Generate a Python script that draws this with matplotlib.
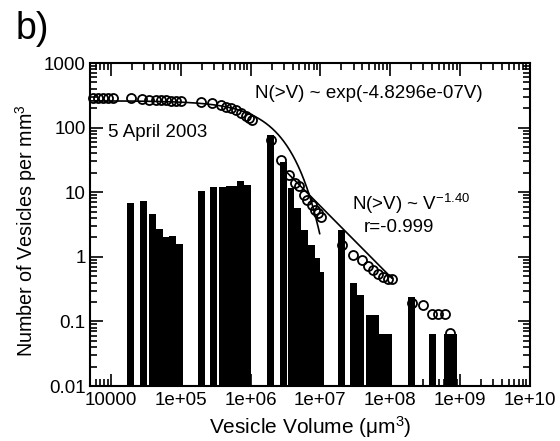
import numpy as np
import matplotlib
matplotlib.use("Agg")
import matplotlib.pyplot as plt
from matplotlib.ticker import LogLocator, FixedLocator, FixedFormatter, NullFormatter

plt.rcParams['font.family'] = ['Liberation Sans', 'DejaVu Sans']
plt.rcParams['mathtext.fontset'] = 'custom'
plt.rcParams['mathtext.rm'] = 'Liberation Sans'
plt.rcParams['mathtext.default'] = 'regular'

# histogram bars: log10(volume um^3) of bin centre, number per mm^3
bar_logv = [4.28, 4.47, 4.59, 4.69, 4.79, 4.88, 4.98,
            5.295, 5.47, 5.60, 5.70, 5.765, 5.85, 5.95,
            6.29, 6.47, 6.58, 6.68, 6.77, 6.87, 6.94, 7.00,
            7.30, 7.47, 7.58, 7.70, 7.79, 7.885, 7.975,
            8.31, 8.61, 8.83, 8.91]
bar_n = [6.9, 7.4, 4.6, 2.7, 2.05, 2.1, 1.6,
         10.5, 12.2, 12.2, 12.7, 12.7, 14.8, 13.0,
         77, 29, 11.5, 5.6, 2.6, 1.55, 0.96, 0.59,
         2.6, 0.39, 0.26, 0.126, 0.126, 0.063, 0.063,
         0.24, 0.063, 0.063, 0.063]

# cumulative N(>V)
cum_logv = [3.741, 3.813, 3.885, 3.957, 4.029,
            4.282, 4.449, 4.546, 4.641, 4.713, 4.785, 4.857, 4.929, 5.001,
            5.293, 5.451, 5.580, 5.652, 5.724, 5.796, 5.868, 5.940, 5.983, 6.026,
            6.299, 6.443, 6.557, 6.644, 6.701, 6.773, 6.816, 6.874, 6.917, 6.960, 7.003,
            7.305, 7.463, 7.592, 7.678, 7.750, 7.822, 7.894, 7.966, 8.023,
            8.310, 8.468, 8.598, 8.684, 8.784, 8.856]
cum_n = [285, 285, 285, 285, 285,
         285, 276, 272, 268, 266, 264, 262, 261, 260,
         252, 238, 224, 211, 199, 187, 170, 153, 139, 131,
         65, 31.6, 18.5, 14, 12.3, 9.1, 7.6, 6.3, 5.3, 4.7, 4.2,
         1.5, 1.07, 0.89, 0.72, 0.63, 0.54, 0.49, 0.46, 0.46,
         0.195, 0.18, 0.13, 0.13, 0.13, 0.066]

# fitted curves as drawn
exp_amp = 260
exp_rate = 4.8296e-07
exp_vmax = 9.8e6
pow_logv = [6.45, 8.023]
pow_logn = [1.385, -0.328]

xticks = [1e4, 1e5, 1e6, 1e7, 1e8, 1e9, 1e10]
xticklabels = ['10000', '1e+05', '1e+06', '1e+07', '1e+08', '1e+09', '1e+10']
yticks = [0.01, 0.1, 1, 10, 100, 1000]
yticklabels = ['0.01', '0.1', '1', '10', '100', '1000']

fig = plt.figure(figsize=(5.6, 4.41), dpi=100)
ax = fig.add_axes([0.1607, 0.1247, 0.785, 0.7324])

half = 0.05
lv = np.array(bar_logv)
left = 10 ** (lv - half)
right = 10 ** (lv + half)
ax.bar(left, np.array(bar_n) - 1e-3, width=right - left, bottom=1e-3,
       align='edge', color='black', linewidth=0, zorder=2)

vv = np.logspace(np.log10(5000), np.log10(exp_vmax), 400)
ax.plot(vv, exp_amp * np.exp(-exp_rate * vv), color='black', lw=1.2, zorder=3)

ax.plot(10 ** np.array(pow_logv), 10 ** np.array(pow_logn), color='black', lw=1.2, zorder=3)

ax.plot(10 ** np.array(cum_logv), cum_n, 'o', ms=6.5, mfc='none', mec='black',
        mew=1.3, zorder=4, clip_on=False)

ax.set_xscale('log')
ax.set_yscale('log')
ax.set_xlim(5000, 1e10)
ax.set_ylim(0.01, 1000)

ax.xaxis.set_major_locator(FixedLocator(xticks))
ax.xaxis.set_major_formatter(FixedFormatter(xticklabels))
ax.yaxis.set_major_locator(FixedLocator(yticks))
ax.yaxis.set_major_formatter(FixedFormatter(yticklabels))
ax.xaxis.set_minor_locator(LogLocator(base=10, subs=np.arange(2, 10), numticks=20))
ax.yaxis.set_minor_locator(LogLocator(base=10, subs=np.arange(2, 10), numticks=20))
ax.xaxis.set_minor_formatter(NullFormatter())
ax.yaxis.set_minor_formatter(NullFormatter())
ax.tick_params(which='both', direction='in', top=True, right=True, labelsize=13.5, width=1.2)
ax.tick_params(which='major', length=9)
ax.tick_params(which='minor', length=5)
ax.tick_params(axis='x', which='major', pad=4)
ax.tick_params(axis='y', which='major', pad=3)
for s in ax.spines.values():
    s.set_linewidth(1.5)

ax.set_xlabel('Vesicle Volume (μm$^3$)', fontsize=15, labelpad=4)
ax.set_ylabel('Number of Vesicles per mm$^3$', fontsize=14.2)
ax.yaxis.set_label_coords(-0.115, 0.48)

ax.text(0.375, 0.905, 'N(>V) ~ exp(-4.8296e-07V)', transform=ax.transAxes,
        fontsize=13.5, va='center')
ax.text(0.04, 0.785, '5 April 2003', transform=ax.transAxes, fontsize=13.5, va='center')
ax.text(0.597, 0.565, 'N(>V) ~ V$^{-1.40}$', transform=ax.transAxes, fontsize=13.5, va='center')
ax.text(0.622, 0.49, 'r=-0.999', transform=ax.transAxes, fontsize=13.5, va='center')
fig.text(0.027, 0.975, 'b)', fontsize=27, va='top')

fig.savefig('out.png', dpi=100)
